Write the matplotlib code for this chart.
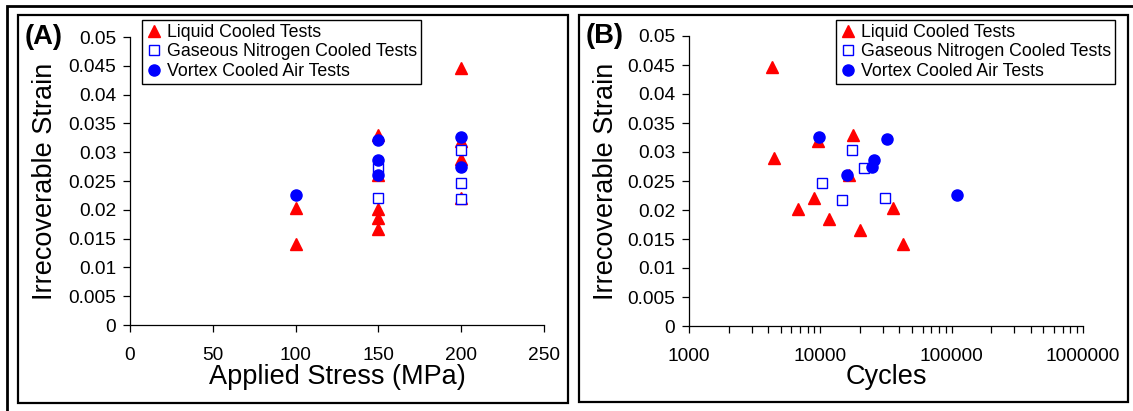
import matplotlib
matplotlib.use("Agg")
import matplotlib.pyplot as plt
from matplotlib.patches import Rectangle
from matplotlib.ticker import FuncFormatter, LogLocator

plt.rcParams['font.family'] = ['Liberation Sans', 'DejaVu Sans']

# ---------------- data ----------------
series_labels = ["Liquid Cooled Tests", "Gaseous Nitrogen Cooled Tests", "Vortex Cooled Air Tests"]

liquid_stress = [100, 100, 150, 150, 150, 150, 150, 200, 200, 200, 200]
liquid_cycles = [35970, 42560, 17820, 16640, 6714, 11560, 20050, 4258, 9550, 4467, 8995]
liquid_strain = [0.0203, 0.0141, 0.0330, 0.0260, 0.0201, 0.0185, 0.0166, 0.0447, 0.0319, 0.0289, 0.0220]

gn2_stress = [200, 150, 200, 200, 150]
gn2_cycles = [17530, 21630, 10360, 14710, 31040]
gn2_strain = [0.0303, 0.0273, 0.0246, 0.0218, 0.0221]

vortex_stress = [200, 150, 150, 200, 150, 100]
vortex_cycles = [9775, 32180, 25620, 24880, 16050, 109100]
vortex_strain = [0.0326, 0.0322, 0.0286, 0.0274, 0.0260, 0.0225]

stress_ticks = [0, 50, 100, 150, 200, 250]
cycle_ticks = [1000, 10000, 100000, 1000000]
strain_ticks = [0, 0.005, 0.01, 0.015, 0.02, 0.025, 0.03, 0.035, 0.04, 0.045, 0.05]

# ---------------- figure ----------------
W, H = 1133, 411
fig = plt.figure(figsize=(W / 100, H / 100), dpi=100)


def fx(px):
    return px / W


def fy(py):
    return (H - py) / H


# frames
fig.patches.append(Rectangle((fx(7), fy(430)), fx(1145) - fx(7), fy(6) - fy(430),
                             transform=fig.transFigure, fill=False, lw=2.0, ec='black'))
fig.patches.append(Rectangle((fx(18), fy(403)), fx(568) - fx(18), fy(15) - fy(403),
                             transform=fig.transFigure, fill=False, lw=1.6, ec='black'))
fig.patches.append(Rectangle((fx(579), fy(402)), fx(1128) - fx(579), fy(15) - fy(402),
                             transform=fig.transFigure, fill=False, lw=1.6, ec='black'))

axA = fig.add_axes([fx(130), fy(325), fx(544) - fx(130), fy(37) - fy(325)])
axB = fig.add_axes([fx(689), fy(326), fx(1083) - fx(689), fy(36) - fy(326)])

red = '#FF0000'
blue = '#0000FF'


def draw(ax, x_liq, x_gn2, x_vor):
    ax.plot(x_liq, liquid_strain, linestyle='none', marker='^', ms=9, mfc=red, mec=red,
            label=series_labels[0], zorder=3)
    ax.plot(x_gn2, gn2_strain, linestyle='none', marker='s', ms=7.5, mfc='white', mec=blue,
            mew=1.0, label=series_labels[1], zorder=4)
    ax.plot(x_vor, vortex_strain, linestyle='none', marker='o', ms=8, mfc=blue, mec=blue,
            label=series_labels[2], zorder=5)


draw(axA, liquid_stress, gn2_stress, vortex_stress)
draw(axB, liquid_cycles, gn2_cycles, vortex_cycles)

fmt_y = FuncFormatter(lambda v, p: '%g' % round(v, 4))
for ax in (axA, axB):
    ax.set_ylim(0, 0.05)
    ax.set_yticks(strain_ticks)
    ax.yaxis.set_major_formatter(fmt_y)
    for s in ('top', 'right'):
        ax.spines[s].set_visible(False)
    for s in ('left', 'bottom'):
        ax.spines[s].set_linewidth(0.9)
    ax.tick_params(axis='both', which='both', direction='out', length=5, width=0.9,
                   labelsize=13.8, color='black')
    ax.tick_params(axis='y', pad=5)
    ax.tick_params(axis='x', pad=11)
    ax.set_facecolor('none')

axA.set_xlim(0, 250)
axA.set_xticks(stress_ticks)
axA.xaxis.set_major_formatter(FuncFormatter(lambda v, p: '%d' % v))

axB.set_xscale('log')
axB.set_xlim(1000, 1000000)
axB.set_xticks(cycle_ticks)
axB.xaxis.set_minor_locator(LogLocator(base=10, subs=range(2, 10)))
axB.xaxis.set_major_formatter(FuncFormatter(lambda v, p: '%d' % v))
axB.xaxis.set_minor_formatter(FuncFormatter(lambda v, p: ''))

axA.set_xlabel('Applied Stress (MPa)', fontsize=19.5, va='center')
axB.set_xlabel('Cycles', fontsize=19.5, va='center')
axA.xaxis.set_label_coords(0.5, -52 / 288)
axB.xaxis.set_label_coords(0.5, -51 / 290)
axA.set_ylabel('Irrecoverable Strain', fontsize=19.5, va='center')
axB.set_ylabel('Irrecoverable Strain', fontsize=19.5, va='center')
axA.yaxis.set_label_coords((45 - 130) / 414, 0.5)
axB.yaxis.set_label_coords((606 - 689) / 394, 0.5)

fig.text(fx(44), fy(37), '(A)', fontsize=19.7, fontweight='bold', ha='center', va='center')
fig.text(fx(605), fy(36), '(B)', fontsize=19.7, fontweight='bold', ha='center', va='center')

for ax, lx in ((axA, 142), (axB, 836)):
    leg = ax.legend(loc='upper left', bbox_to_anchor=(fx(lx), fy(20)), bbox_transform=fig.transFigure,
                    borderaxespad=0, fontsize=12.8, frameon=True, fancybox=False,
                    handlelength=0.9, handletextpad=0.3, borderpad=0.22, labelspacing=0.14,
                    numpoints=1)
    fr = leg.get_frame()
    fr.set_edgecolor('black')
    fr.set_linewidth(1.0)
    fr.set_alpha(None)
    fr.set_facecolor('white')

fig.savefig('out.png', dpi=100)
